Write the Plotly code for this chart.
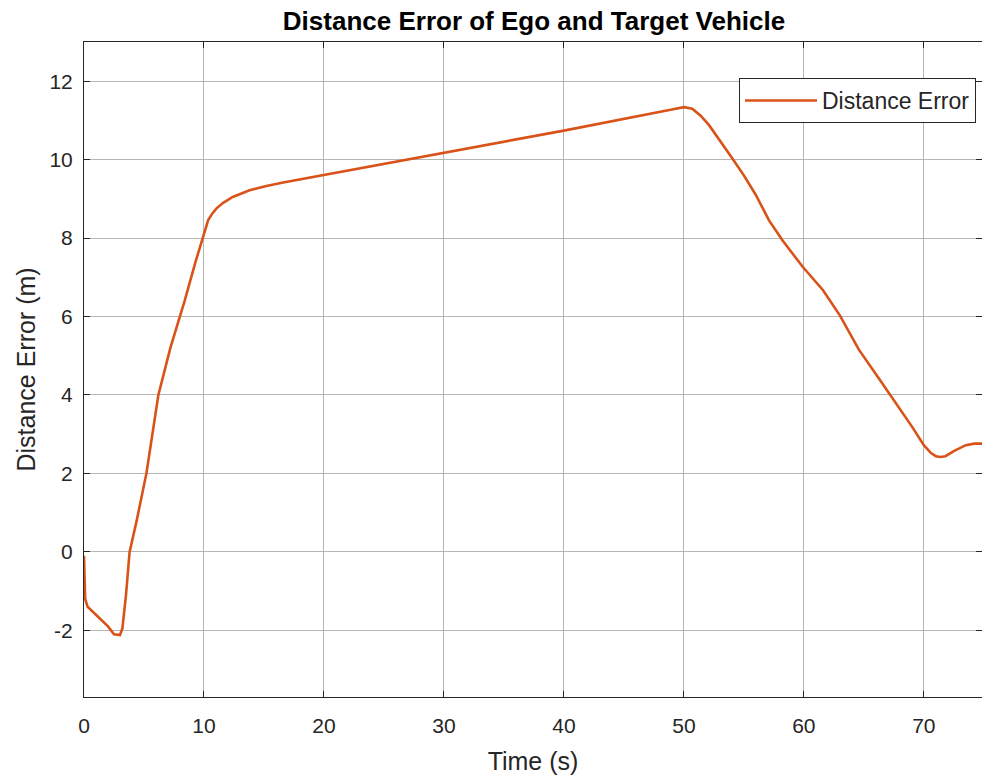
import plotly.graph_objects as go

# ---- data ----
time_s = [0, 0.05, 0.1, 0.3, 1.0, 2.0, 2.5, 3.0, 3.2, 3.5, 3.8, 4.4, 5.2, 6.2, 7.2,
          8.4, 9.3, 9.9, 10.35, 10.7, 11.05, 11.6, 12.4, 13.8, 15.2, 16.6, 18.0,
          20, 30, 40, 49, 50.0, 50.7, 51.4, 52.1, 53, 54, 55, 56, 57.1, 58.2, 59.9,
          61.6, 63.0, 64.6, 66.3, 67.9, 69, 70, 70.6, 71.0, 71.4, 71.8, 72.5, 73.5,
          74.2, 75]
dist_err = [-0.1, -1.0, -1.2, -1.4, -1.6, -1.9, -2.1, -2.12, -1.95, -1.1, 0, 0.81,
            2.0, 4.0, 5.2, 6.41, 7.4, 8.03, 8.46, 8.63, 8.76, 8.9, 9.05, 9.22, 9.33,
            9.42, 9.50, 9.60, 10.17, 10.74, 11.28, 11.34, 11.30, 11.12, 10.88, 10.5,
            10.05, 9.6, 9.1, 8.45, 7.95, 7.27, 6.67, 6.03, 5.15, 4.4, 3.70, 3.2, 2.72,
            2.52, 2.44, 2.42, 2.44, 2.57, 2.72, 2.76, 2.76]
x_ticks = [0, 10, 20, 30, 40, 50, 60, 70]
y_ticks = [-2, 0, 2, 4, 6, 8, 10, 12]
y_tick_labels = ["-2", "0", "2", "4", "6", "8", "10", "12"]
x_range = [0, 74.85]
y_range = [-3.7, 13]

FONT = "Liberation Sans, Arial, sans-serif"
AX = "#262626"
GRID = "#b5b5b5"
LINE = "#D95319"

fig = go.Figure()
fig.add_trace(go.Scatter(x=time_s, y=dist_err, mode="lines", name="Distance Error",
                         line=dict(color=LINE, width=2.6)))
# invisible helper trace to carry the right-hand tick marks
fig.add_trace(go.Scatter(x=[x_range[0]], y=[y_range[0]], yaxis="y2", mode="lines",
                         showlegend=False, hoverinfo="skip",
                         line=dict(color="rgba(0,0,0,0)")))

fig.update_layout(
    width=982, height=780,
    margin=dict(l=84, r=0, t=42, b=83),
    paper_bgcolor="white", plot_bgcolor="white",
    font=dict(family=FONT, color=AX, size=21),
    title=dict(text="<b>Distance Error of Ego and Target Vehicle</b>",
               x=534 / 982, xanchor="center", y=1 - 21 / 780, yanchor="middle",
               font=dict(family=FONT, size=26, color="#000000")),
    xaxis=dict(range=x_range, tickvals=x_ticks, ticks="inside", ticklen=6,
               tickcolor=AX, showline=True, linecolor=AX, linewidth=1,
               mirror="ticks", showgrid=True, gridcolor=GRID, gridwidth=1,
               zeroline=False, tickfont=dict(size=21, color=AX),
               ticklabelstandoff=10,
               title=dict(text="Time (s)", font=dict(size=25, color=AX), standoff=16)),
    yaxis=dict(range=y_range, tickvals=y_ticks, ticktext=y_tick_labels,
               ticks="inside", ticklen=6,
               tickcolor=AX, showline=True, linecolor=AX, linewidth=1,
               showgrid=True, gridcolor=GRID, gridwidth=1, zeroline=False,
               tickfont=dict(size=21, color=AX), ticklabelstandoff=6,
               title=dict(text="Distance Error (m)", font=dict(size=25, color=AX),
                          standoff=6)),
    yaxis2=dict(range=y_range, tickvals=y_ticks, overlaying="y", side="right",
                ticks="inside", ticklen=6, tickcolor=AX, showline=False,
                showgrid=False, zeroline=False, showticklabels=False),
    legend=dict(x=(976 - 84) / 898, xanchor="right",
                y=1 - (78 - 42) / 655, yanchor="top", itemwidth=72,
                bgcolor="white", bordercolor=AX, borderwidth=1,
                font=dict(size=23, color=AX)),
    showlegend=True,
)

fig.write_html("out.html")
